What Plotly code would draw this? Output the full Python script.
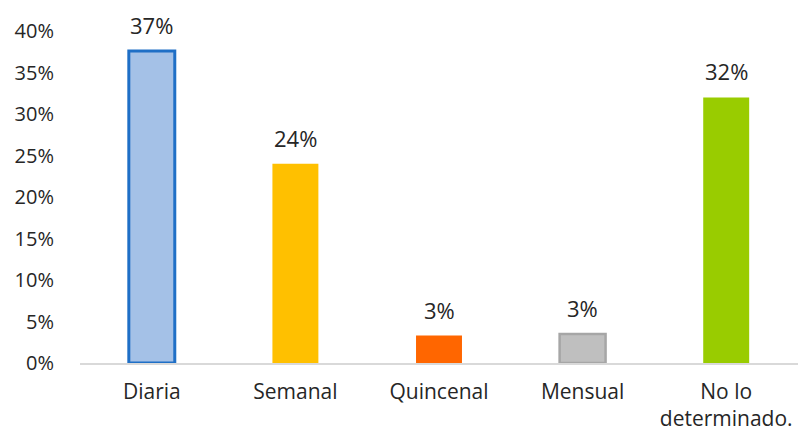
import plotly.graph_objects as go

categories = ["Diaria", "Semanal", "Quincenal", "Mensual", "No lo<br>determinado."]
values = [37.6, 24.0, 3.3, 3.5, 32.0]
labels = ["37%", "24%", "3%", "3%", "32%"]
fill_colors = ["#a4c1e7", "#ffc000", "#ff6600", "#bfbfbf", "#99cc00"]
line_colors = ["#1f6fc6", "#ffc000", "#ff6600", "#a6a6a6", "#99cc00"]
line_widths = [3, 0, 0, 2.5, 0]
tick_vals = [0, 5, 10, 15, 20, 25, 30, 35, 40]
tick_text = ["0%", "5%", "10%", "15%", "20%", "25%", "30%", "35%", "40%"]

font_family = "Open Sans, Lato, sans-serif"

fig = go.Figure(go.Bar(
    x=categories, y=values,
    marker=dict(color=fill_colors, line=dict(color=line_colors, width=line_widths)),
    width=0.32,
))

for c, v, t in zip(categories, values, labels):
    fig.add_annotation(
        x=c, y=v, text=t, showarrow=False, yanchor="bottom", yshift=9,
        font=dict(size=22, color="#262626", family=font_family),
    )

fig.update_layout(
    width=800, height=437,
    margin=dict(l=80, r=2, t=31, b=74),
    paper_bgcolor="white", plot_bgcolor="white",
    showlegend=False,
    font=dict(family=font_family, size=18, color="#262626"),
)
fig.update_xaxes(
    showline=True, linecolor="#d9d9d9", linewidth=1.5, automargin=False,
    showgrid=False, ticks="", tickfont=dict(size=21), ticklabelstandoff=9,
)
fig.update_yaxes(
    range=[0, 40], tickvals=tick_vals, ticktext=tick_text, automargin=False,
    showgrid=False, zeroline=False, showline=False,
    tickfont=dict(size=20), ticklabelstandoff=25,
)

fig.write_html("out.html")
